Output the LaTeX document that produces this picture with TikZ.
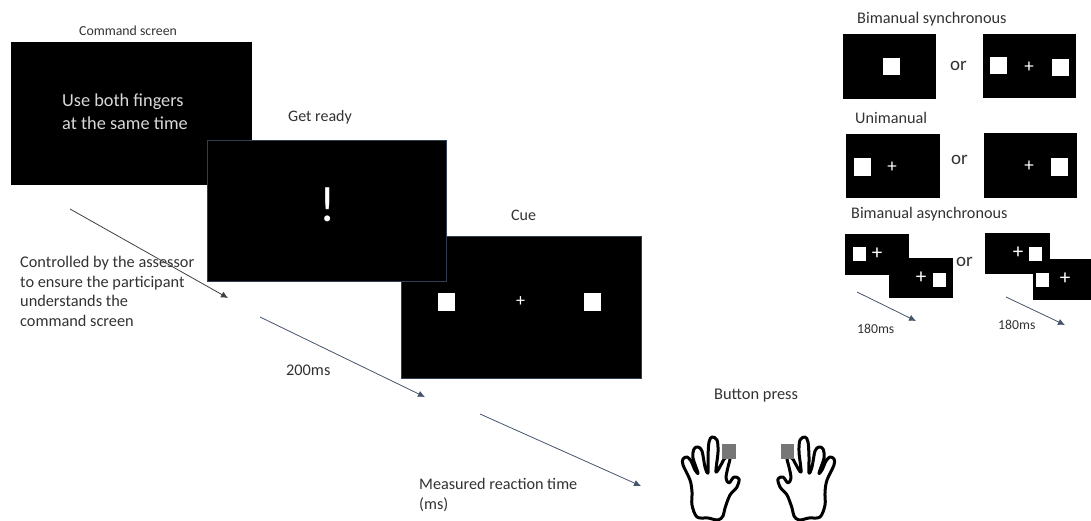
\documentclass[tikz,border=0pt]{standalone}
\usepackage{fontspec}
\setmainfont{Carlito}
\usetikzlibrary{arrows.meta, positioning}
\definecolor{slate}{RGB}{47,62,82}
\definecolor{arrowgrey}{RGB}{68,84,106}
\definecolor{inkgrey}{RGB}{50,50,50}
\definecolor{pressgrey}{RGB}{118,118,118}
\newcommand{\sz}[1]{\fontsize{#1}{19.5}\selectfont}
\tikzset{
  screen/.style 2 args={fill=black, draw=#1, line width=1.3pt, inner sep=0pt, anchor=north west, minimum width=#2},
  tall/.style={minimum height=#1},
  blip/.style 2 args={fill=white, inner sep=0pt, minimum width=#1, minimum height=#2},
  cross/.style={text=white, inner sep=0pt, font=\sz{#1}},
  txt/.style={text=inkgrey, inner sep=0pt, anchor=west, align=left, font=\sz{#1}},
  lapse/.style={arrowgrey, line width=0.8pt, -{Latex[length=7pt,width=6.5pt]}},
  hand/.pic={
    \draw[line width=3pt, line join=round] plot[smooth cycle, tension=0.55] coordinates {
      (15,50) (8,35) (8,29) (12,27) (16,31) (20,40) (23,43)
      (18,28) (19,19) (23,17) (27,21) (30,37) (33,43)
      (33,27) (34,12) (37,7) (42,10) (43,22) (41,42)
      (47,33) (50,28) (55,28) (53,37) (51,48)
      (54,53) (59,47) (64,49) (62,57) (55,65) (50,78) (48,86)
      (43,90) (33,88) (22,87) (17,75) (17,62)};
  }
}
\begin{document}
\begin{tikzpicture}[x=1pt, y=-1pt]
  \useasboundingbox (0,0) rectangle (1091,521);
  % Main sequence
  \node[screen={black}{240pt}, tall=142pt] (cmd) at (11,42) {};
  \node[screen={slate}{240pt}, tall=142pt] (cue) at (401,236) {};
  \node[screen={slate}{239pt}, tall=141pt] (ready) at (207,140) {};
  \node[txt=13.8] (cmdtitle) at (79,31) {Command screen};
  \node[txt=16] (readytitle) at (288,117) {Get ready};
  \node[txt=16] (cuetitle) at (511,215) {Cue};
  \node[txt=18.3, text=white!85!black] (cmdtext) at (62,111.5) {Use both fingers\\[3pt]at the same time};
  \node[cross=50] (bang) at (328,205) {!};
  \node[blip={17pt}{18pt}] (cueL) at (446.5,302) {};
  \node[blip={17pt}{18pt}] (cueR) at (592.5,302) {};
  \node[cross=18] (cueplus) at (520.5,302) {+};
  % Arrows between screens
  \coordinate (a1) at (70,209);
  \coordinate (b1) at (228,298);
  \coordinate (a2) at (260,317);
  \coordinate (b2) at (425,397);
  \coordinate (a3) at (480,414);
  \coordinate (b3) at (641,486);
  \draw[lapse, black!75] (a1) -- (b1);
  \draw[lapse] (a2) -- (b2);
  \draw[lapse] (a3) -- (b3);
  \node[txt=16.3] (assessor) at (20,291.5) {Controlled by the assessor\\to ensure the participant\\understands the\\command screen};
  \node[txt=16.3] (ms200) at (286,370) {200ms};
  \node[txt=16.2] (measured) at (419,495) {Measured reaction time\\(ms)};
  % Button press
  \node[txt=16.4] (presstitle) at (714,396) {Button press};
  \pic at (675,430) {hand};
  \pic[xscale=-1] at (842,430) {hand};
  \node[fill=pressgrey, inner sep=0pt, minimum width=14pt, minimum height=15pt] (pressL) at (729,451.5) {};
  \node[fill=pressgrey, inner sep=0pt, minimum width=13pt, minimum height=15pt] (pressR) at (787.5,451.5) {};
  % Bimanual synchronous
  \node[txt=16.3] (syntitle) at (857,19) {Bimanual synchronous};
  \node[screen={black}{92pt}, tall=64pt, line width=0pt] (synA) at (843,35) {};
  \node[screen={black}{92pt}, tall=63pt, line width=0pt] (synB) at (983,35) {};
  \node[blip={17pt}{17pt}] (synAsq) at (891.5,66.5) {};
  \node[blip={17pt}{17pt}] (synBl) at (998.5,65.5) {};
  \node[blip={17pt}{17pt}] (synBr) at (1060.5,67.5) {};
  \node[cross=19] (synplus) at (1029,67) {+};
  \node[txt=19] (synor) at (950,66) {or};
  % Unimanual
  \node[txt=16.2] (unititle) at (855,118) {Unimanual};
  \node[screen={black}{93pt}, tall=63pt, line width=0pt] (uniA) at (846,135) {};
  \node[screen={black}{92pt}, tall=64pt, line width=0pt] (uniB) at (984,134) {};
  \node[blip={17pt}{18pt}] (uniAsq) at (862.5,167) {};
  \node[blip={17pt}{18pt}] (uniBsq) at (1059.5,167) {};
  \node[cross=19] (uniAplus) at (892,167) {+};
  \node[cross=19] (uniBplus) at (1029,166) {+};
  \node[txt=19] (unior) at (951,160) {or};
  % Bimanual asynchronous
  \node[txt=16.2] (asytitle) at (851,214) {Bimanual asynchronous};
  \node[screen={black}{63pt}, tall=39pt, line width=0pt] (asyA) at (845,235) {};
  \node[screen={black}{63pt}, tall=39pt, line width=0pt] (asyB) at (889,258) {};
  \node[screen={black}{64pt}, tall=39pt, line width=0pt] (asyC) at (985,234) {};
  \node[screen={black}{58pt}, tall=40pt, line width=0pt] (asyD) at (1033,259) {};
  \node[blip={13pt}{14pt}] (asyAsq) at (859.5,254) {};
  \node[blip={13pt}{14pt}] (asyBsq) at (939.5,280) {};
  \node[blip={13pt}{14pt}] (asyCsq) at (1035.5,254) {};
  \node[blip={13pt}{14pt}] (asyDsq) at (1042.5,279.5) {};
  \node[cross=21] (asyAplus) at (877,254) {+};
  \node[cross=21] (asyBplus) at (921,278) {+};
  \node[cross=21] (asyCplus) at (1018,253) {+};
  \node[cross=21] (asyDplus) at (1065,279) {+};
  \node[txt=19] (asyor) at (956,262) {or};
  \coordinate (a4) at (857,292);
  \coordinate (b4) at (916,321);
  \coordinate (a5) at (1006,297);
  \coordinate (b5) at (1065,325);
  \draw[lapse] (a4) -- (b4);
  \draw[lapse] (a5) -- (b5);
  \node[txt=13.7] (ms180a) at (857,329) {180ms};
  \node[txt=13.7] (ms180b) at (998,325) {180ms};
\end{tikzpicture}
\end{document}
